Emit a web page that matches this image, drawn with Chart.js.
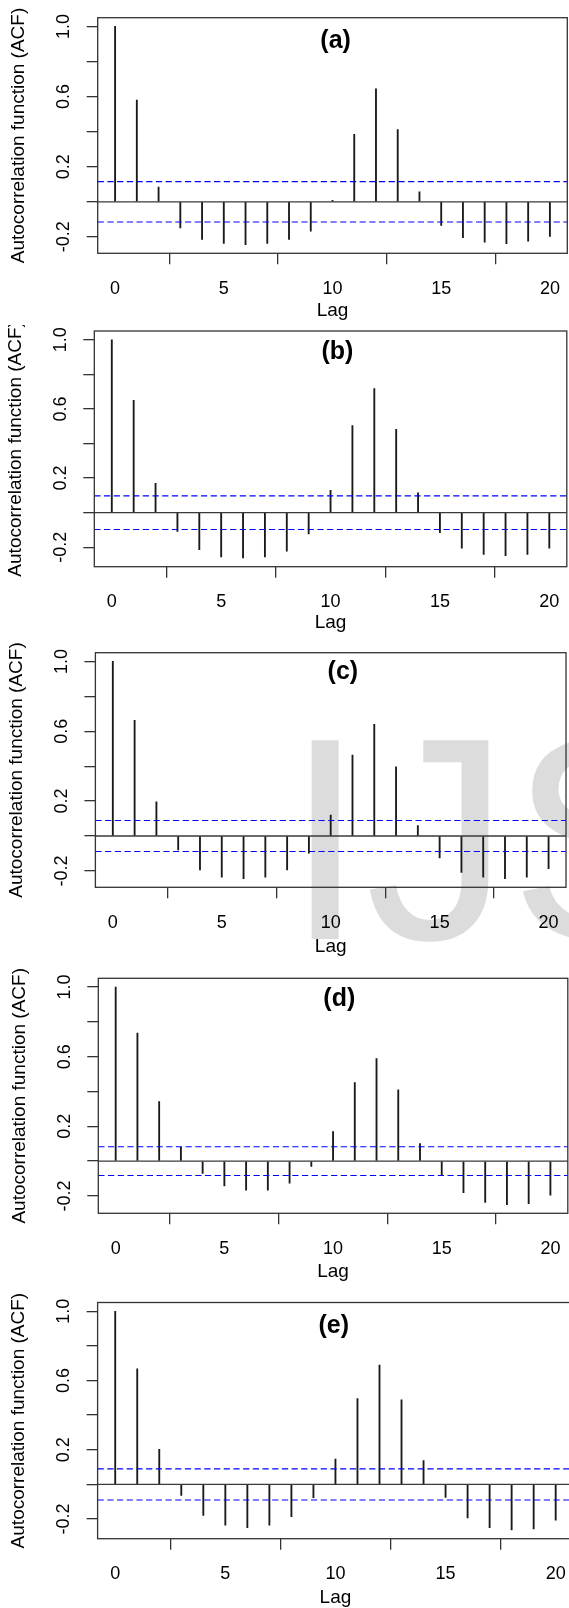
<!DOCTYPE html>
<html>
<head>
<meta charset="utf-8">
<script src="https://cdn.jsdelivr.net/npm/chart.js@4.4.1/dist/chart.umd.min.js"></script>
<style>
html, body { margin:0; padding:0; background:#ffffff; }
body { position:relative; width:569px; height:1608px; overflow:hidden; }
#wm { position:absolute; left:285px; top:694px; font-family:"Liberation Sans", Arial, sans-serif; font-size:289px; line-height:1; color:#dcdcdc; white-space:nowrap; z-index:0; }
canvas { position:absolute; left:0; z-index:1; }
</style>
</head>
<body>
<div id="wm">IJS</div>
<canvas id="c0"></canvas>
<canvas id="c1"></canvas>
<canvas id="c2"></canvas>
<canvas id="c3"></canvas>
<canvas id="c4"></canvas>
<script>
// ---- data ----
const lags = [0, 1, 2, 3, 4, 5, 6, 7, 8, 9, 10, 11, 12, 13, 14, 15, 16, 17, 18, 19, 20];
const xTickValues = [0, 5, 10, 15, 20];
const xTickLabels = ['0', '5', '10', '15', '20'];
const yTickValues = [-0.2, 0, 0.2, 0.4, 0.6, 0.8, 1.0];
const yTickLabels = ['-0.2', '', '0.2', '', '0.6', '', '1.0'];
const panelTitles = ['(a)', '(b)', '(c)', '(d)', '(e)'];
const xAxisTitle = 'Lag';
const yAxisTitle = 'Autocorrelation function (ACF)';

const acfA = [1.0, 0.580, 0.084, -0.149, -0.214, -0.237, -0.244, -0.237, -0.214, -0.167, 0.008, 0.384, 0.644, 0.412, 0.057, -0.135, -0.204, -0.231, -0.239, -0.224, -0.197];
const acfB = [1.0, 0.649, 0.170, -0.108, -0.214, -0.256, -0.262, -0.256, -0.222, -0.123, 0.129, 0.503, 0.717, 0.482, 0.114, -0.116, -0.206, -0.241, -0.249, -0.241, -0.206];
const acfC = [1.0, 0.663, 0.196, -0.080, -0.194, -0.236, -0.244, -0.236, -0.194, -0.099, 0.120, 0.463, 0.640, 0.396, 0.059, -0.126, -0.208, -0.236, -0.244, -0.236, -0.187];
const acfD = [1.0, 0.735, 0.342, 0.079, -0.071, -0.142, -0.167, -0.167, -0.127, -0.031, 0.169, 0.451, 0.589, 0.409, 0.100, -0.081, -0.182, -0.238, -0.250, -0.244, -0.196];
const acfE = [1.0, 0.668, 0.202, -0.063, -0.179, -0.236, -0.250, -0.236, -0.186, -0.077, 0.146, 0.495, 0.689, 0.488, 0.138, -0.075, -0.194, -0.250, -0.263, -0.257, -0.207];

const ciA = 0.115;
const ciB = 0.097;
const ciC = 0.089;
const ciD = 0.0825;
const ciE = 0.090;

// ---- layout (pixel placement of each panel) ----
const layouts = [
  {top:0,    h:325, w:569, boxT:17.7,   boxB:253.3,  boxL:97.7, boxR:567.3, lagY:311,    titleX:335.6, titleY:41},
  {top:325,  h:311, w:569, boxT:331,    boxB:566.7,  boxL:94.3, boxR:566.8, lagY:623,    titleX:337.4, titleY:351.7},
  {top:636,  h:326, w:569, boxT:652.7,  boxB:887.3,  boxL:95.4, boxR:566.0, lagY:946.7,  titleX:342.9, titleY:671.7},
  {top:962,  h:324, w:569, boxT:978.3,  boxB:1213.3, boxL:98.3, boxR:567.8, lagY:1271.7, titleX:339.3, titleY:999.3},
  {top:1286, h:322, w:600, boxT:1302.5, boxB:1538.7, boxL:97.6, boxR:573.3, lagY:1598,   titleX:333.8, titleY:1325.7}
];

const FONT = '"Liberation Sans", Arial, sans-serif';
Chart.defaults.font.family = FONT;

function panelPlugin(title, L) {
  return {
    id: 'panelDecor',
    afterDraw(chart) {
      const ctx = chart.ctx, a = chart.chartArea;
      ctx.save();
      ctx.strokeStyle = '#333333';
      ctx.lineWidth = 1.3;
      ctx.strokeRect(a.left, a.top, a.right - a.left, a.bottom - a.top);
      ctx.fillStyle = '#000000';
      ctx.font = 'bold 25px ' + FONT;
      ctx.textAlign = 'center';
      ctx.textBaseline = 'middle';
      ctx.fillText(title, L.titleX, L.titleY - L.top);
      ctx.restore();
    }
  };
}

function makePanel(i, acf, ci) {
  const L = layouts[i];
  const cv = document.getElementById('c' + i);
  cv.width = L.w; cv.height = L.h;
  cv.style.top = L.top + 'px';
  cv.style.width = L.w + 'px'; cv.style.height = L.h + 'px';

  const dMin = Math.min(...acf, -ci), dMax = Math.max(...acf, ci);
  const yr = dMax - dMin;
  const yMin = dMin - 0.04 * yr, yMax = dMax + 0.04 * yr;
  const xr = lags[lags.length - 1] - lags[0];
  const xMin = lags[0] - 0.04 * xr, xMax = lags[lags.length - 1] + 0.04 * xr;

  const tickFont = {family: FONT, size: 18};
  const titleFont = {family: FONT, size: 19, lineHeight: 1};

  new Chart(cv, {
    type: 'bar',
    data: {
      datasets: [
        {type: 'bar', data: lags.map((l, k) => ({x: l, y: acf[k]})), backgroundColor: '#1a1a1a', borderWidth: 0, barThickness: 1.2, order: 3},
        {type: 'line', data: [{x: xMin, y: 0}, {x: xMax, y: 0}], borderColor: '#3a3a3a', borderWidth: 1.3, pointRadius: 0, order: 2},
        {type: 'line', data: [{x: xMin, y: ci}, {x: xMax, y: ci}], borderColor: '#0000ff', borderWidth: 1.1, borderDash: [6.2, 3.5], pointRadius: 0, order: 1},
        {type: 'line', data: [{x: xMin, y: -ci}, {x: xMax, y: -ci}], borderColor: '#0000ff', borderWidth: 1.1, borderDash: [6.2, 3.5], pointRadius: 0, order: 1}
      ]
    },
    options: {
      responsive: false,
      animation: false,
      devicePixelRatio: 1,
      events: [],
      layout: {autoPadding: false, padding: {left: 0, top: L.boxT - L.top, right: L.w - L.boxR, bottom: 0}},
      plugins: {legend: {display: false}, tooltip: {enabled: false}, title: {display: false}},
      scales: {
        x: {
          type: 'linear', min: xMin, max: xMax, offset: false,
          afterBuildTicks: s => { s.ticks = xTickValues.map(v => ({value: v})); },
          afterFit: s => { s.height = (L.top + L.h) - L.boxB; s.paddingLeft = 0; s.paddingRight = 0; },
          grid: {drawOnChartArea: false, drawTicks: true, tickLength: 11, color: '#333333', lineWidth: 1.3},
          border: {display: false},
          ticks: {padding: 14, font: tickFont, color: '#000000', maxRotation: 0, minRotation: 0, autoSkip: false,
                  callback: (v, idx) => xTickLabels[idx]},
          title: {display: true, text: xAxisTitle, font: titleFont, color: '#000000',
                  padding: {top: 0, bottom: Math.max(0, (L.top + L.h) - L.lagY - 9.5)}}
        },
        y: {
          type: 'linear', min: yMin, max: yMax,
          afterBuildTicks: s => { s.ticks = yTickValues.map(v => ({value: v})); },
          afterFit: s => { s.width = L.boxL; s.paddingTop = 0; s.paddingBottom = 0; },
          grid: {drawOnChartArea: false, drawTicks: true, tickLength: 11, color: '#333333', lineWidth: 1.3},
          border: {display: false},
          ticks: {padding: 7, minRotation: 90, maxRotation: 90, crossAlign: 'center', font: tickFont, color: '#000000', autoSkip: false,
                  callback: (v, idx) => yTickLabels[idx]},
          title: {display: true, text: yAxisTitle, font: titleFont, color: '#000000',
                  padding: {top: Math.max(0, L.boxL - 78.5 - 9.5), bottom: 0}}
        }
      }
    },
    plugins: [panelPlugin(panelTitles[i], L)]
  });
}

makePanel(0, acfA, ciA);
makePanel(1, acfB, ciB);
makePanel(2, acfC, ciC);
makePanel(3, acfD, ciD);
makePanel(4, acfE, ciE);
</script>
</body>
</html>
